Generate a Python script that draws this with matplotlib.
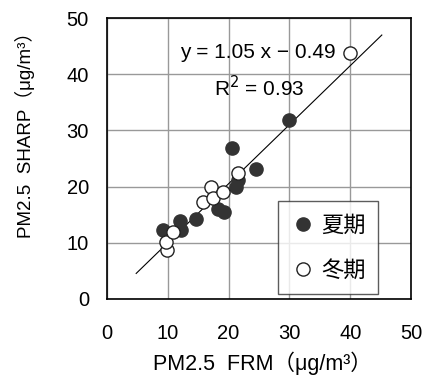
import matplotlib.pyplot as plt
import numpy as np

plt.rcParams['font.family'] = ['Liberation Sans', 'Noto Sans CJK JP', 'DejaVu Sans']

# 夏期 (summer)
summer_frm = [9.2, 12.0, 12.1, 14.6, 18.3, 19.2, 20.5, 21.2, 21.6, 24.5, 30.0]
summer_sharp = [12.2, 13.9, 12.3, 14.2, 16.1, 15.5, 26.8, 20.0, 21.2, 23.1, 31.9]

# 冬期 (winter)
winter_frm = [9.8, 9.7, 10.9, 15.8, 17.1, 17.4, 19.0, 21.6, 40.0]
winter_sharp = [8.8, 10.2, 12.0, 17.3, 20.0, 17.9, 19.1, 22.5, 43.8]

slope = 1.05
intercept = -0.49
fit_x = [4.8, 45.2]
ticks = [0, 10, 20, 30, 40, 50]

fig = plt.figure(figsize=(4.23, 3.81), dpi=100)
ax = fig.add_axes([107 / 423, 1 - 299 / 381, 304 / 423, 281 / 381])

ax.grid(True, color='#999999', linewidth=1)
ax.set_axisbelow(True)

fx = np.array(fit_x)
ax.plot(fx, slope * fx + intercept, color='black', linewidth=0.8, zorder=2)

ax.plot(summer_frm, summer_sharp, 'o', color='#333333', markersize=9.5,
        markeredgecolor='#333333', label='夏期', zorder=3)
ax.plot(winter_frm, winter_sharp, 'o', color='white', markersize=9.5,
        markeredgecolor='#222222', markeredgewidth=1.0, label='冬期', zorder=3)

ax.set_xlim(0, 50)
ax.set_ylim(0, 50)
ax.set_xticks(ticks)
ax.set_yticks(ticks)
ax.tick_params(axis='x', length=0, pad=18, labelsize=14.5)
ax.tick_params(axis='y', length=0, pad=13, labelsize=14.5)
for s in ax.spines.values():
    s.set_linewidth(1.2)

ax.text(24.8, 43.8, 'y = 1.05 x − 0.49', ha='center', va='center', fontsize=15)
ax.text(25.0, 37.7, 'R$^2$ = 0.93', ha='center', va='center', fontsize=15)

leg = ax.legend(loc='lower right', bbox_to_anchor=(0.891, 0.018), borderaxespad=0,
                frameon=True, fancybox=False, edgecolor='#333333',
                handletextpad=0.2, labelspacing=1.0, borderpad=0.55,
                handlelength=1.2, markerscale=1.0,
                prop={'family': ['Noto Sans CJK JP'], 'size': 16})
leg.get_frame().set_linewidth(1.0)

fig.text(262 / 423, 1 - 363 / 381, 'PM2.5  FRM（μg/m³）', ha='center', va='center',
         fontsize=15.5)
fig.text(25 / 423, 1 - 130 / 381, 'PM2.5  SHARP（μg/m³）', ha='center', va='center',
         rotation=90, fontsize=13.5)

fig.savefig('out.png', dpi=100)
